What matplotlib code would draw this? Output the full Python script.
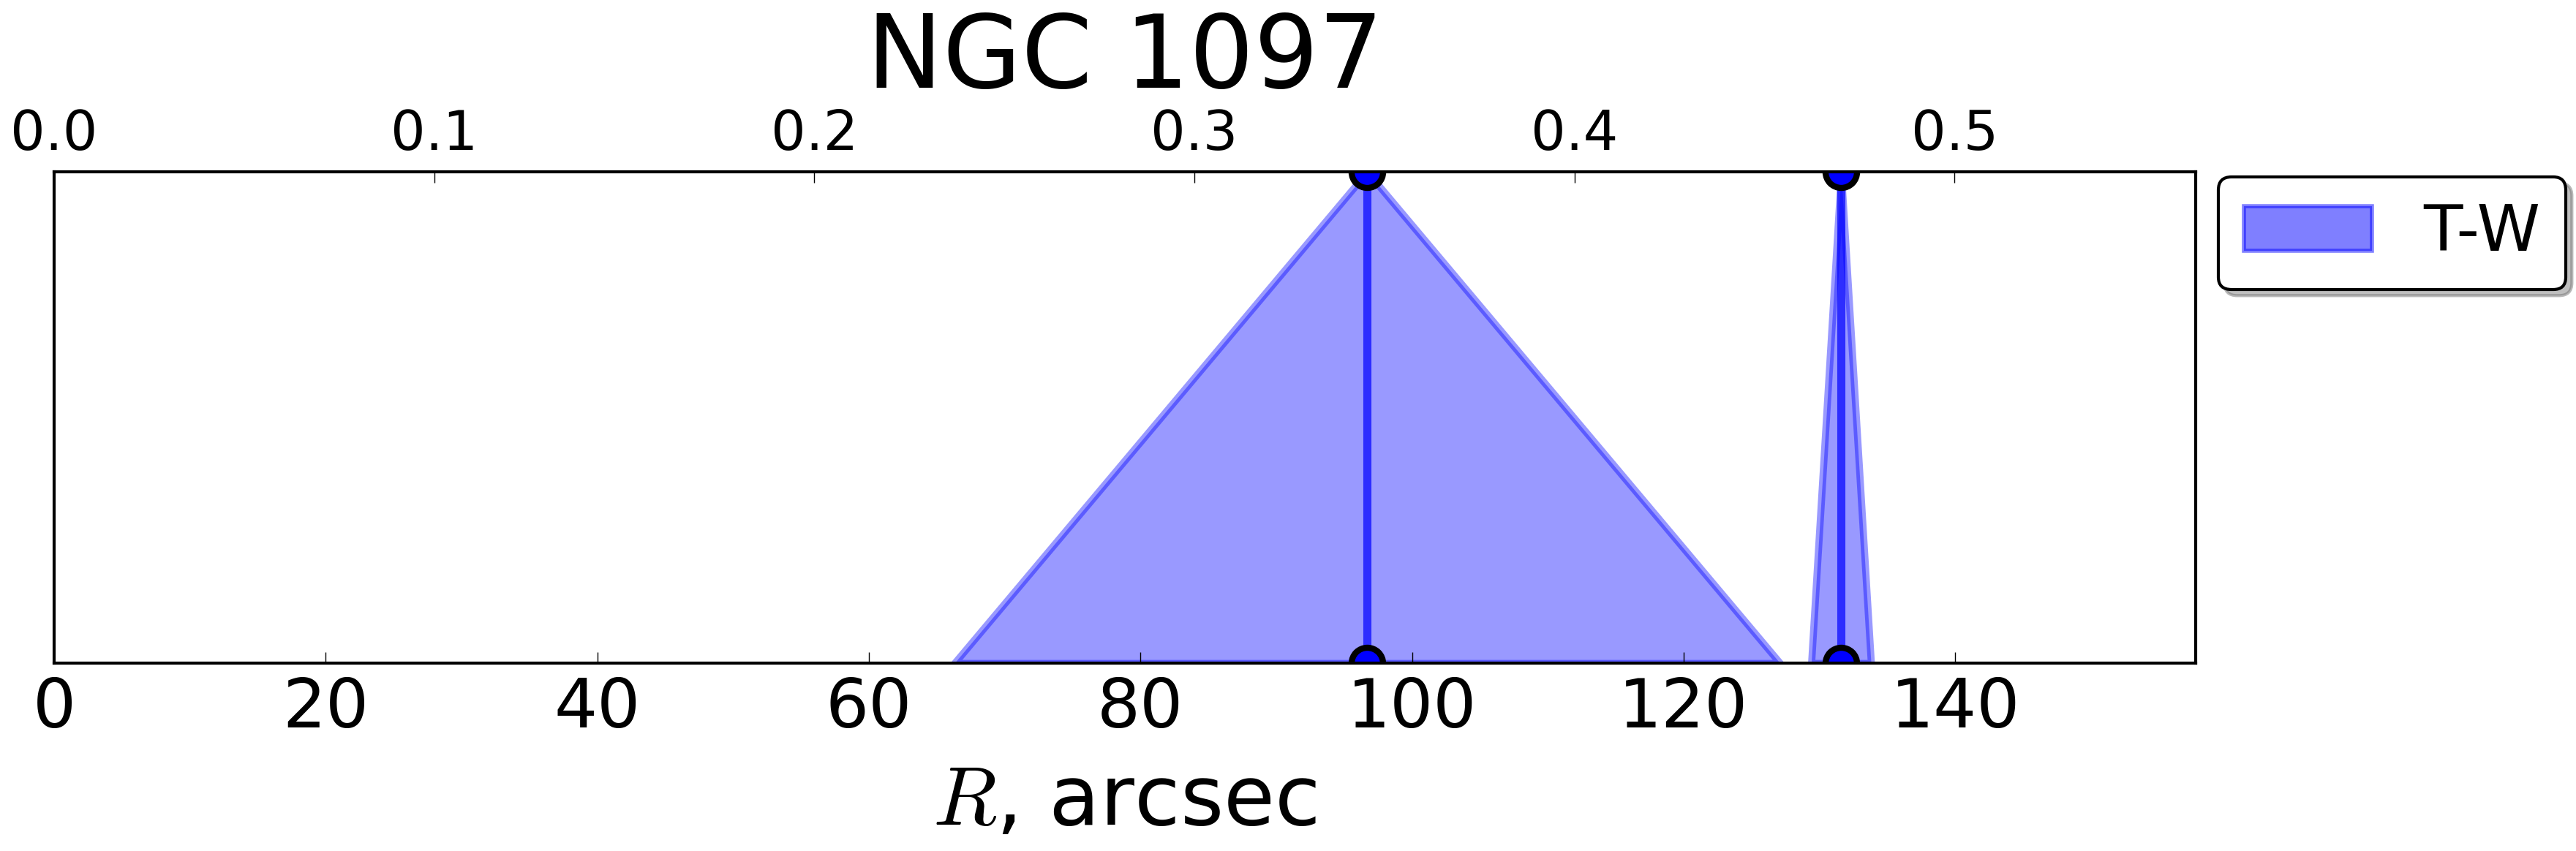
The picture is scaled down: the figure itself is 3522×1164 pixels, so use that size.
import numpy as np
import matplotlib
matplotlib.use('Agg')
import matplotlib.pyplot as plt
from matplotlib.patches import Patch, Shadow

plt.rcParams['font.family'] = ['DejaVu Sans']
plt.rcParams['mathtext.fontset'] = 'cm'

# T-W measurements: left base, peak and right base of each feature (arcsec)
tw_left = [66.3, 129.4]
tw_peak = [96.7, 131.6]
tw_right = [127.1, 133.8]

r_max = 157.7          # arcsec, right edge of the axis
r25 = 279.9            # arcsec per unit of the top axis
bottom_ticks = [0, 20, 40, 60, 80, 100, 120, 140]
top_ticks = [0.0, 0.1, 0.2, 0.3, 0.4, 0.5]

fig = plt.figure(figsize=(35.22, 11.64), dpi=100)
ax = fig.add_axes([0.0210, 0.2208, 0.8313, 0.5773])

for l, p, r in zip(tw_left, tw_peak, tw_right):
    ax.fill_between([l, p, r], [0, 1, 0], 0, facecolor='blue', edgecolor='blue',
                    alpha=0.4, lw=7)
    ax.plot([p, p], [0, 1], color='blue', alpha=0.7, lw=8)
    ax.plot([p, p], [0, 1], 'o', ms=31, mfc='blue', mec='black', mew=6, ls='none')

ax.set_xlim(0, r_max)
ax.set_ylim(0, 1)
ax.set_xticks(bottom_ticks)
ax.set_yticks([])
ax.tick_params(axis='x', direction='in', top=True, bottom=True, length=10.8,
               width=1, labelsize=67, pad=12)
for s in ax.spines.values():
    s.set_linewidth(3)
ax.set_xlabel(r'$R$, arcsec', fontsize=82, labelpad=20)
ax.set_title('NGC 1097', fontsize=100, y=1.171, pad=0)

ax2 = ax.twiny()
ax2.set_xlim(0, r_max / r25)
ax2.set_xticks(top_ticks)
ax2.set_xticklabels(['%.1f' % t for t in top_ticks])
ax2.tick_params(axis='x', direction='in', top=True, bottom=False, length=10.8,
                width=1, labelsize=54, pad=10)
for s in ax2.spines.values():
    s.set_visible(False)

handle = Patch(facecolor='blue', edgecolor='blue', alpha=0.5, lw=4)
leg = ax.legend([handle], ['T-W'], loc='upper left', fontsize=63,
                bbox_to_anchor=(3033 / 3522, 1 - 242 / 1164),
                bbox_transform=fig.transFigure, borderaxespad=0,
                fancybox=True, shadow=False, framealpha=1)
leg.get_frame().set_edgecolor('black')
leg.get_frame().set_linewidth(3)

# legend shadow with a larger offset than the default one
fig.canvas.draw()
sh = Shadow(leg.legendPatch, 6, -6)
sh.set_facecolor('0.5')
sh.set_edgecolor('0.45')
sh.set_linewidth(3)
sh.set_zorder(-1)
fig.add_artist(sh)

plt.savefig('out.png')
